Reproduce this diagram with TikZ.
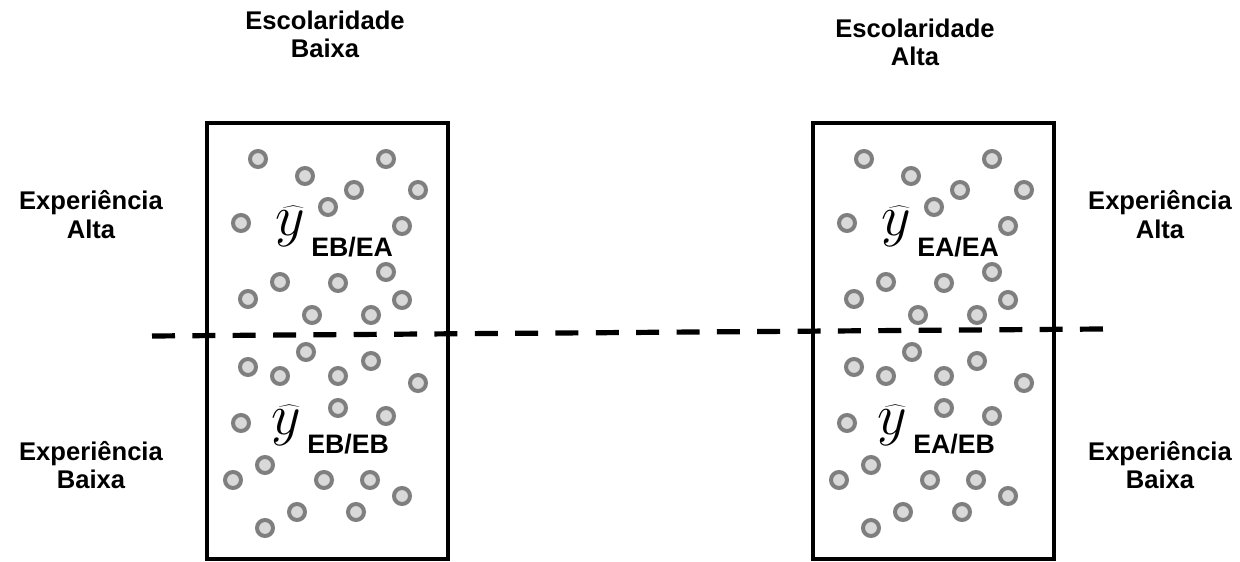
\RequirePackage{fix-cm}
\documentclass[tikz,border=0pt]{standalone}
\usepackage{fontspec}
\setmainfont{Liberation Sans}
\definecolor{dotring}{RGB}{127,127,127}
\definecolor{dotfill}{RGB}{217,217,217}
\tikzset{
  groupbox/.style={line width=0.1cm},
  dot/.style={draw=dotring, fill=dotfill, line width=0.1cm},
  divider/.style={line width=0.13cm, dash pattern=on 0.575cm off 0.4337cm},
  sidelabel/.style={font=\fontsize{18.2}{20}\selectfont\bfseries, align=center, inner sep=0pt},
  yhat/.style={font=\fontsize{41}{41}\selectfont, anchor=base west, inner sep=0pt},
  subtag/.style={font=\fontsize{19}{19}\selectfont\bfseries, anchor=base west, inner sep=0pt}
}
\begin{document}
\begin{tikzpicture}
\useasboundingbox (0,0) rectangle (31,14.025);
\foreach \s/\a/\n in {0/EB/L, 15.15/EA/R}{
\begin{scope}[xshift=\s cm]
% dots, upper half
\foreach \x/\y in {6.45/10.05, 7.625/9.625, 9.65/10.05, 8.85/9.275, 10.45/9.275, 8.2/8.85, 6.025/8.45, 10.05/8.375, 9.65/7.225, 7.0/6.975, 8.45/6.95, 6.2/6.55, 10.05/6.525, 7.8/6.15, 9.275/6.15}
  \draw[dot] (\x,\y) circle (0.2);
% dots, lower half
\foreach \x/\y in {7.65/5.225, 9.275/5.0, 6.2/4.85, 7.0/4.625, 8.45/4.625, 10.45/4.45, 8.45/3.825, 9.65/3.625, 6.025/3.45, 6.625/2.4, 5.825/2.025, 8.1/2.025, 9.25/2.025, 10.05/1.625, 7.425/1.225, 8.9/1.225, 6.625/0.825}
  \draw[dot] (\x,\y) circle (0.2);
\draw[groupbox] (5.175,0.05) rectangle (11.2,10.95); % box
\node[yhat] (yhatA\n) at (6.875,8.1375) {$\widehat{y}$};
\node[subtag] (subA\n) at (7.775,7.6) {\a/EA};
\node[yhat] (yhatB\n) at (6.775,3.1625) {$\widehat{y}$};
\node[subtag] (subB\n) at (7.675,2.7) {\a/EB};
\end{scope}
}
\coordinate (dashL) at (3.8,5.625);
\coordinate (dashR) at (27.575,5.8);
\draw[divider] (dashL) -- (dashR);
\node[sidelabel] (titleL) at (8.125,13.1625) {Escolaridade\\Baixa};
\node[sidelabel] (titleR) at (22.875,12.975) {Escolaridade\\Alta};
\node[sidelabel] (expAltaL) at (2.275,8.66) {Experiência\\Alta};
\node[sidelabel] (expBaixaL) at (2.275,2.4) {Experiência\\Baixa};
\node[sidelabel] (expAltaR) at (29.0,8.66) {Experiência\\Alta};
\node[sidelabel] (expBaixaR) at (29.0,2.4) {Experiência\\Baixa};
\end{tikzpicture}
\end{document}
